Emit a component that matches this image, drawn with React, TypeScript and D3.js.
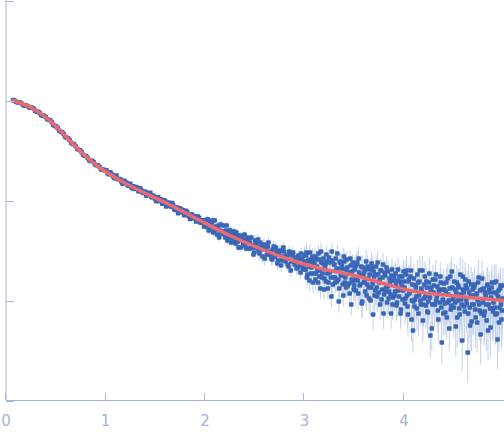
import React from "react";
import * as d3 from "d3";

// Fit curve (q, log10 intensity)
const fitQ = [0.07, 0.27, 0.44, 0.61, 0.77, 0.94, 1.15, 1.28, 1.62, 1.95, 2.25, 2.48, 2.82, 3.16, 3.46, 3.76, 4.06, 4.36, 4.66, 5.0];
const fitLogI = [0.0, -0.08, -0.2, -0.37, -0.53, -0.67, -0.8, -0.87, -1.03, -1.2, -1.35, -1.45, -1.58, -1.68, -1.74, -1.82, -1.9, -1.94, -1.97, -2.0];

// Experimental points (q, log10 intensity)
const qA = [0.07,0.10,0.13,0.16,0.19,0.22,0.25,0.28,0.31,0.34,0.37,0.40,0.43,0.46,0.49,0.52,0.55,0.58,0.61,0.64,0.67,0.70,0.73,0.76,0.79,0.82,0.85,0.88,0.91,0.94,0.97];
const logIA = [0.005,-0.012,-0.018,-0.033,-0.052,-0.058,-0.073,-0.082,-0.112,-0.126,-0.153,-0.166,-0.193,-0.218,-0.254,-0.276,-0.313,-0.336,-0.372,-0.396,-0.434,-0.457,-0.493,-0.516,-0.553,-0.572,-0.604,-0.616,-0.648,-0.665,-0.694];
const qA2 = [0.085,0.115,0.145,0.175,0.205,0.235,0.265,0.295,0.325,0.355,0.385,0.415,0.445,0.475,0.505,0.535,0.565,0.595,0.625,0.655,0.685,0.715,0.745,0.775,0.805,0.835,0.865,0.895,0.925,0.955,0.985];
const logIA2 = [-0.001,-0.019,-0.022,-0.047,-0.050,-0.070,-0.072,-0.104,-0.113,-0.146,-0.154,-0.187,-0.198,-0.242,-0.258,-0.302,-0.318,-0.362,-0.378,-0.422,-0.438,-0.483,-0.497,-0.543,-0.555,-0.596,-0.602,-0.640,-0.650,-0.686,-0.692];

const qB = [1.00,1.02,1.04,1.06,1.08,1.10,1.12,1.14,1.16,1.18,1.20,1.22,1.24,1.26,1.28,1.30,1.32,1.34,1.36,1.38,1.40,1.42,1.44,1.46,1.48,1.50,1.52,1.54,1.56,1.58,1.60,1.62,1.64,1.66,1.68,1.70,1.72,1.74,1.76,1.78,1.80,1.82,1.84,1.86,1.88,1.90,1.92,1.94,1.96,1.98];
const logIB = [-0.700,-0.728,-0.722,-0.741,-0.765,-0.758,-0.784,-0.785,-0.812,-0.806,-0.822,-0.843,-0.835,-0.866,-0.858,-0.884,-0.876,-0.905,-0.897,-0.925,-0.912,-0.944,-0.930,-0.962,-0.951,-0.985,-0.968,-1.004,-0.990,-1.028,-1.005,-1.045,-1.022,-1.063,-1.045,-1.095,-1.070,-1.080,-1.118,-1.097,-1.140,-1.115,-1.158,-1.140,-1.176,-1.158,-1.200,-1.176,-1.222,-1.198];
const qB2 = [1.01,1.03,1.05,1.07,1.09,1.11,1.13,1.15,1.17,1.19,1.21,1.23,1.25,1.27,1.29,1.31,1.33,1.35,1.37,1.39,1.41,1.43,1.45,1.47,1.49,1.51,1.53,1.55,1.57,1.59,1.61,1.63,1.65,1.67,1.69,1.71,1.73,1.75,1.77,1.79,1.81,1.83,1.85,1.87,1.89,1.91,1.93,1.95,1.97,1.99];
const logIB2 = [-0.699,-0.736,-0.719,-0.746,-0.778,-0.750,-0.787,-0.790,-0.831,-0.802,-0.821,-0.851,-0.832,-0.880,-0.867,-0.866,-0.906,-0.878,-0.918,-0.912,-0.951,-0.926,-0.922,-0.970,-0.964,-1.008,-0.968,-0.987,-1.032,-0.998,-1.060,-1.023,-1.053,-1.026,-1.086,-1.071,-1.127,-1.077,-1.092,-1.146,-1.103,-1.150,-1.184,-1.141,-1.163,-1.210,-1.160,-1.218,-1.200,-1.260];

const qC = [2.000,2.015,2.030,2.045,2.060,2.075,2.090,2.105,2.120,2.135,2.150,2.165,2.180,2.195,2.210,2.225,2.240,2.255,2.270,2.285,2.300,2.315,2.330,2.345,2.360,2.375,2.390,2.405,2.420,2.435,2.450,2.465,2.480,2.495,2.510,2.525,2.540,2.555,2.570,2.585,2.600,2.615,2.630,2.645,2.660,2.675,2.690,2.705,2.720,2.735,2.750,2.765,2.780,2.795,2.810,2.825,2.840,2.855,2.870,2.885,2.900,2.915,2.930,2.945,2.960,2.975,2.990];
const logIC = [-1.20,-1.25,-1.19,-1.29,-1.24,-1.20,-1.30,-1.26,-1.34,-1.25,-1.30,-1.33,-1.25,-1.33,-1.30,-1.40,-1.33,-1.30,-1.39,-1.36,-1.41,-1.32,-1.41,-1.36,-1.47,-1.36,-1.40,-1.45,-1.37,-1.48,-1.42,-1.37,-1.47,-1.52,-1.43,-1.47,-1.51,-1.42,-1.49,-1.45,-1.58,-1.48,-1.46,-1.54,-1.51,-1.59,-1.46,-1.56,-1.51,-1.60,-1.51,-1.65,-1.56,-1.51,-1.61,-1.56,-1.66,-1.54,-1.61,-1.52,-1.64,-1.61,-1.67,-1.59,-1.72,-1.58,-1.65];
const qC2 = [2.0075,2.0225,2.0375,2.0525,2.0675,2.0825,2.0975,2.1125,2.1275,2.1425,2.1575,2.1725,2.1875,2.2025,2.2175,2.2325,2.2475,2.2625,2.2775,2.2925,2.3075,2.3225,2.3375,2.3525,2.3675,2.3825,2.3975,2.4125,2.4275,2.4425,2.4575,2.4725,2.4875,2.5025,2.5175,2.5325,2.5475,2.5625,2.5775,2.5925,2.6075,2.6225,2.6375,2.6525,2.6675,2.6825,2.6975,2.7125,2.7275,2.7425,2.7575,2.7725,2.7875,2.8025,2.8175,2.8325,2.8475,2.8625,2.8775,2.8925,2.9075,2.9225,2.9375,2.9525,2.9675,2.9825,2.9975];
const logIC2 = [-1.26,-1.19,-1.30,-1.23,-1.22,-1.32,-1.20,-1.29,-1.26,-1.37,-1.24,-1.33,-1.31,-1.37,-1.25,-1.37,-1.30,-1.42,-1.34,-1.31,-1.43,-1.35,-1.47,-1.35,-1.39,-1.43,-1.34,-1.48,-1.40,-1.38,-1.48,-1.45,-1.54,-1.40,-1.47,-1.39,-1.53,-1.46,-1.56,-1.44,-1.47,-1.54,-1.42,-1.54,-1.58,-1.49,-1.56,-1.47,-1.63,-1.54,-1.50,-1.60,-1.47,-1.59,-1.55,-1.64,-1.51,-1.70,-1.55,-1.61,-1.57,-1.68,-1.55,-1.65,-1.53,-1.68,-1.61];

const qD = [3.00,3.01,3.02,3.03,3.04,3.05,3.06,3.07,3.08,3.09,3.10,3.11,3.12,3.13,3.14,3.15,3.16,3.17,3.18,3.19,3.20,3.21,3.22,3.23,3.24,3.25,3.26,3.27,3.28,3.29,3.30,3.31,3.32,3.33,3.34,3.35,3.36,3.37,3.38,3.39,3.40,3.41,3.42,3.43,3.44,3.45,3.46,3.47,3.48,3.49,3.50,3.51,3.52,3.53,3.54,3.55,3.56,3.57,3.58,3.59,3.60,3.61,3.62,3.63,3.64,3.65,3.66,3.67,3.68,3.69,3.70,3.71,3.72,3.73,3.74,3.75,3.76,3.77,3.78,3.79,3.80,3.81,3.82,3.83,3.84,3.85,3.86,3.87,3.88,3.89,3.90,3.91,3.92,3.93,3.94,3.95,3.96,3.97,3.98,3.99,4.00,4.01,4.02,4.03,4.04,4.05,4.06,4.07,4.08,4.09,4.10,4.11,4.12,4.13,4.14,4.15,4.16,4.17,4.18,4.19,4.20,4.21,4.22,4.23,4.24,4.25,4.26,4.27,4.28,4.29,4.30,4.31,4.32,4.33,4.34,4.35,4.36,4.37,4.38,4.39,4.40,4.41,4.42,4.43,4.44,4.45,4.46,4.47,4.48,4.49,4.50,4.51,4.52,4.53,4.54,4.55,4.56,4.57,4.58,4.59,4.60,4.61,4.62,4.63,4.64,4.65,4.66,4.67,4.68,4.69,4.70,4.71,4.72,4.73,4.74,4.75,4.76,4.77,4.78,4.79,4.80,4.81,4.82,4.83,4.84,4.85,4.86,4.87,4.88,4.89,4.90,4.91,4.92,4.93,4.94,4.95,4.96,4.97,4.98,4.99];
const logID = [
  -1.55,-1.69,-1.52,-1.74,-1.61,-1.80,-1.59,-1.67,-1.56,-1.73,
  -1.62,-1.79,-1.58,-1.70,-1.53,-1.76,-1.88,-1.62,-1.73,-1.58,
  -1.78,-1.64,-1.54,-1.73,-1.82,-1.62,-1.71,-1.96,-1.60,-1.77,
  -1.64,-1.82,-1.69,-1.53,-1.79,-1.88,-1.61,-1.75,-1.68,-1.95,
  -1.61,-1.77,-1.87,-1.67,-1.72,-1.83,-1.58,-2.04,-1.71,-1.81,
  -1.85,-1.66,-1.78,-1.62,-1.93,-1.72,-1.84,-1.66,-2.01,-1.75,
  -1.72,-1.91,-1.61,-1.84,-1.78,-1.98,-1.69,-1.87,-1.67,-2.14,
  -1.76,-1.90,-1.66,-1.96,-1.74,-1.82,-2.04,-1.70,-1.89,-1.64,
  -1.94,-1.75,-1.87,-2.02,-1.71,-1.91,-1.82,-2.13,-1.69,-1.97,
  -1.76,-1.91,-1.84,-2.02,-1.69,-1.96,-1.81,-2.09,-1.76,-1.90,
  -1.81,-2.03,-1.74,-1.95,-2.14,-1.79,-1.91,-1.70,-2.00,-2.30,
  -1.78,-1.99,-1.87,-2.08,-1.82,-1.95,-1.70,-2.04,-1.91,-2.20,
  -1.98,-1.76,-2.05,-1.87,-2.12,-1.82,-1.97,-1.91,-2.28,-1.79,
  -1.85,-2.04,-1.74,-1.96,-2.10,-1.89,-2.02,-1.82,-2.42,-1.99,
  -1.83,-2.03,-1.91,-2.17,-1.78,-2.00,-1.88,-2.09,-1.71,-1.96,
  -2.07,-1.89,-2.26,-1.82,-2.00,-1.87,-2.14,-1.94,-2.04,-1.76,
  -1.92,-2.11,-1.85,-2.03,-2.52,-1.81,-2.07,-1.96,-2.21,-1.89,
  -2.04,-1.84,-2.17,-1.93,-2.00,-1.77,-2.10,-2.34,-1.89,-2.02,
  -1.88,-2.11,-1.95,-2.20,-1.84,-2.04,-1.92,-2.27,-1.87,-2.08,
  -2.02,-1.82,-2.14,-1.93,-2.39,-1.90,-2.07,-1.85,-2.19,-1.98
];
const qD2 = [3.005,3.015,3.025,3.035,3.045,3.055,3.065,3.075,3.085,3.095,3.105,3.115,3.125,3.135,3.145,3.155,3.165,3.175,3.185,3.195,3.205,3.215,3.225,3.235,3.245,3.255,3.265,3.275,3.285,3.295,3.305,3.315,3.325,3.335,3.345,3.355,3.365,3.375,3.385,3.395,3.405,3.415,3.425,3.435,3.445,3.455,3.465,3.475,3.485,3.495,3.505,3.515,3.525,3.535,3.545,3.555,3.565,3.575,3.585,3.595,3.605,3.615,3.625,3.635,3.645,3.655,3.665,3.675,3.685,3.695,3.705,3.715,3.725,3.735,3.745,3.755,3.765,3.775,3.785,3.795,3.805,3.815,3.825,3.835,3.845,3.855,3.865,3.875,3.885,3.895,3.905,3.915,3.925,3.935,3.945,3.955,3.965,3.975,3.985,3.995,4.005,4.015,4.025,4.035,4.045,4.055,4.065,4.075,4.085,4.095,4.105,4.115,4.125,4.135,4.145,4.155,4.165,4.175,4.185,4.195,4.205,4.215,4.225,4.235,4.245,4.255,4.265,4.275,4.285,4.295,4.305,4.315,4.325,4.335,4.345,4.355,4.365,4.375,4.385,4.395,4.405,4.415,4.425,4.435,4.445,4.455,4.465,4.475,4.485,4.495,4.505,4.515,4.525,4.535,4.545,4.555,4.565,4.575,4.585,4.595,4.605,4.615,4.625,4.635,4.645,4.655,4.665,4.675,4.685,4.695,4.705,4.715,4.725,4.735,4.745,4.755,4.765,4.775,4.785,4.795,4.805,4.815,4.825,4.835,4.845,4.855,4.865,4.875,4.885,4.895,4.905,4.915,4.925,4.935,4.945,4.955,4.965,4.975,4.985,4.995];
const logID2 = [
  -1.69,-1.55,-1.77,-1.60,-1.66,-1.52,-1.73,-1.63,-1.82,-1.58,
  -1.56,-1.73,-1.66,-1.82,-1.59,-1.70,-1.51,-1.77,-1.63,-1.89,
  -1.67,-1.81,-1.61,-1.88,-1.57,-1.72,-1.77,-1.51,-1.84,-1.64,
  -1.77,-1.58,-1.81,-1.68,-2.01,-1.62,-1.74,-1.65,-1.84,-1.56,
  -1.82,-1.69,-1.59,-1.85,-1.72,-1.93,-1.65,-1.79,-1.62,-1.89,
  -1.69,-1.90,-1.64,-1.80,-1.58,-1.85,-1.75,-2.03,-1.67,-1.82,
  -1.81,-1.69,-1.95,-1.66,-1.87,-1.74,-2.00,-1.63,-1.83,-1.71,
  -1.95,-1.74,-1.87,-1.62,-1.92,-1.79,-1.70,-1.99,-1.77,-2.13,
  -1.72,-1.91,-1.67,-1.86,-1.98,-1.78,-1.94,-1.75,-2.04,-1.80,
  -1.95,-1.73,-2.05,-1.80,-1.90,-1.76,-2.13,-1.85,-1.99,-1.71,
  -1.87,-1.98,-1.70,-2.06,-1.81,-1.93,-1.76,-2.19,-1.84,-2.01,
  -2.06,-1.85,-1.96,-1.74,-2.13,-1.81,-2.00,-1.88,-1.70,-2.04,
  -1.84,-1.96,-1.81,-2.11,-2.01,-1.73,-2.35,-1.87,-2.04,-1.92,
  -2.04,-1.79,-2.00,-1.86,-2.19,-1.91,-1.76,-2.07,-1.89,-2.13,
  -1.89,-2.12,-1.82,-2.02,-1.94,-2.28,-1.76,-2.05,-1.87,-1.99,
  -1.81,-2.02,-1.92,-2.17,-1.85,-2.08,-1.74,-1.99,-2.40,-1.89,
  -2.06,-1.79,-1.99,-1.88,-2.13,-1.92,-2.25,-1.84,-2.04,-1.95,
  -1.87,-2.09,-1.95,-2.22,-1.82,-2.04,-1.90,-2.13,-1.78,-2.00,
  -2.15,-1.92,-2.04,-1.85,-2.30,-1.89,-2.08,-1.97,-1.82,-2.11,
  -1.92,-2.07,-1.81,-2.13,-1.96,-2.22,-1.88,-2.04,-2.10,-1.85
];

// relative error (sigma / I) per q band of width 0.5
const relErrBands = [0.005, 0.01, 0.03, 0.05, 0.09, 0.14, 0.22, 0.3, 0.4, 0.5];

const xTicks = [0, 1, 2, 3, 4];
const yTicks = [1e-3, 1e-2, 1e-1, 1e0, 1e1];

const W = 504;
const H = 438;

export default function App() {
  const x = d3.scaleLinear().domain([0, 5]).range([6, 503.5]);
  const y = d3.scaleLog().domain([1e-3, 10]).range([400.5, 0.5]);

  const qs = [...qA, ...qA2, ...qB, ...qB2, ...qC, ...qC2, ...qD, ...qD2];
  const ls = [...logIA, ...logIA2, ...logIB, ...logIB2, ...logIC, ...logIC2, ...logID, ...logID2];
  const pts = qs.map((q, i) => {
    const I = Math.pow(10, ls[i]);
    const rel = relErrBands[Math.min(relErrBands.length - 1, Math.floor(q / 0.5))];
    return { q, I, lo: Math.max(I * (1 - rel), 1e-4), hi: I * (1 + rel) };
  });

  const fitData = fitQ.map((q, i) => [q, Math.pow(10, fitLogI[i])] as [number, number]);
  const line = d3
    .line<[number, number]>()
    .x((d) => x(d[0]))
    .y((d) => y(d[1]))
    .curve(d3.curveMonotoneX);

  const axisColor = "#a3b5dc";
  const s = 4.6;

  return (
    <svg width={W} height={H} style={{ position: "absolute", left: 0, top: 0, background: "#fff" }}>
      <defs>
        <clipPath id="plot">
          <rect x={6} y={0} width={498} height={400} />
        </clipPath>
      </defs>
      <g clipPath="url(#plot)">
        {pts.map((p, i) => (
          <line
            key={"e" + i}
            x1={x(p.q)}
            x2={x(p.q)}
            y1={y(p.lo)}
            y2={y(p.hi)}
            stroke="#c3d1ec"
            strokeWidth={1}
          />
        ))}
        {pts.map((p, i) => (
          <rect
            key={"p" + i}
            x={x(p.q) - s / 2}
            y={y(p.I) - s / 2}
            width={s}
            height={s}
            rx={1}
            fill="#3a66b8"
          />
        ))}
        <path d={line(fitData) || ""} fill="none" stroke="#ec6a6e" strokeWidth={3.5} strokeLinecap="round" />
      </g>
      {/* y axis */}
      <line x1={6} x2={6} y1={0} y2={400.5} stroke={axisColor} strokeWidth={1} />
      {yTicks.map((t) => (
        <line key={"yt" + t} x1={6} x2={14} y1={Math.round(y(t)) + 0.5} y2={Math.round(y(t)) + 0.5} stroke={axisColor} strokeWidth={1} />
      ))}
      {/* x axis */}
      <line x1={6} x2={504} y1={400.5} y2={400.5} stroke={axisColor} strokeWidth={1} />
      {xTicks.map((t) => (
        <g key={"xt" + t}>
          <line x1={Math.round(x(t)) - 0.5} x2={Math.round(x(t)) - 0.5} y1={393} y2={400} stroke={axisColor} strokeWidth={1} />
          <text
            x={x(t)}
            y={426}
            textAnchor="middle"
            fontFamily="DejaVu Sans, sans-serif"
            fontSize={15}
            fill={axisColor}
          >
            {t}
          </text>
        </g>
      ))}
    </svg>
  );
}
